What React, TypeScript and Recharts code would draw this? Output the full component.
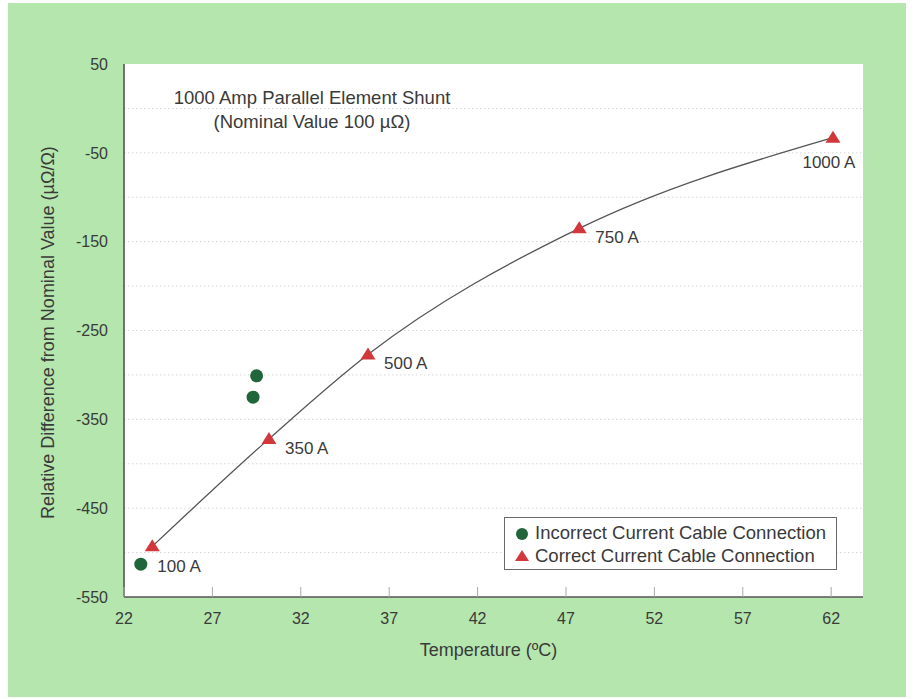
import React from 'react';
import {
  ComposedChart,
  Line,
  Scatter,
  XAxis,
  YAxis,
  ReferenceLine,
  Legend,
  Label,
  LabelList,
} from 'recharts';

// Correct current cable connection (red triangles, fitted curve)
const correctTemp = [23.6, 30.2, 35.8, 47.75, 62.1];
const correctDiff = [-493, -372, -277, -135, -33];
const correctLabels = ['100 A', '350 A', '500 A', '750 A', '1000 A'];

// Incorrect current cable connection (green circles)
const incorrectTemp = [22.95, 29.5, 29.3];
const incorrectDiff = [-513, -301, -325];

const xTicks = [22, 27, 32, 37, 42, 47, 52, 57, 62];
const yTicks = [50, -50, -150, -250, -350, -450, -550];
const gridValues = [0, -50, -100, -150, -200, -250, -300, -350, -400, -450, -500];

const titleLine1 = '1000 Amp Parallel Element Shunt';
const titleLine2 = '(Nominal Value 100 \u00b5\u03a9)';
const xLabel = 'Temperature (\u00baC)';
const yLabel = 'Relative Difference from Nominal Value (\u00b5\u03a9/\u03a9)';
const seriesNames = ['Incorrect Current Cable Connection', 'Correct Current Cable Connection'];

const correctData = correctTemp.map((x, i) => ({ x, y: correctDiff[i], label: correctLabels[i] }));
const incorrectData = incorrectTemp.map((x, i) => ({ x, y: incorrectDiff[i] }));

const FONT = '"Liberation Sans", Arial, Helvetica, sans-serif';
const TEXT = '#3a3a3a';
const RED = '#d2383b';
const GREEN = '#21663a';
const BG = '#b4e6ae';

const Triangle = (props: any) => {
  const { cx, cy, index } = props;
  if (cx == null || cy == null) return <g key={`t-${index}`} />;
  return (
    <path
      key={`t-${index}`}
      d={`M${cx},${cy - 7} L${cx + 7.5},${cy + 5} L${cx - 7.5},${cy + 5} Z`}
      fill={RED}
    />
  );
};

const Circle = (props: any) => {
  const { cx, cy } = props;
  return <circle cx={cx} cy={cy} r={6.5} fill={GREEN} />;
};

const XTick = (props: any) => {
  const { x, y, payload } = props;
  return (
    <g>
      <line x1={x} y1={y} x2={x} y2={y - 10} stroke="#aaa" strokeWidth={1} />
      <text x={x} y={y + 27} textAnchor="middle" fontSize={16} fontFamily={FONT} fill={TEXT}>
        {payload.value}
      </text>
    </g>
  );
};

const PointLabel = (props: any) => {
  const { x, y, value, index } = props;
  const last = index === correctLabels.length - 1;
  const first = index === 0;
  const tx = last ? x - 4 : first ? x + 5 : x + 16;
  const ty = last ? y + 30 : first ? y + 26 : y + 15;
  return (
    <text x={tx} y={ty} textAnchor={last ? 'middle' : 'start'} fontSize={17} fontFamily={FONT} fill={TEXT}>
      {value}
    </text>
  );
};

const PlotBackground = (p: any) => {
  const vb = p.viewBox || {};
  return (
    <g>
      <rect x={vb.x} y={vb.y} width={vb.width} height={533} fill="#fff" />
      <text x={vb.x + 188} y={vb.y + 40} textAnchor="middle" fontSize={18.5} fontFamily={FONT} fill={TEXT}>
        {titleLine1}
      </text>
      <text x={vb.x + 188} y={vb.y + 64} textAnchor="middle" fontSize={18.5} fontFamily={FONT} fill={TEXT}>
        {titleLine2}
      </text>
    </g>
  );
};

const LegendBox = () => (
  <div
    style={{
      boxSizing: 'border-box',
      width: 333,
      height: 53,
      border: '1.5px solid #6a6a6a',
      background: '#fff',
      fontFamily: FONT,
      fontSize: 18.5,
      color: TEXT,
      position: 'relative',
    }}
  >
    <svg width={20} height={50} style={{ position: 'absolute', left: 7, top: 0 }}>
      <circle cx={10} cy={16} r={6} fill={GREEN} />
      <path d="M10,32 L17,43 L3,43 Z" fill={RED} />
    </svg>
    <div style={{ position: 'absolute', left: 30, top: 3, lineHeight: '23px', whiteSpace: 'nowrap' }}>
      {seriesNames[0]}
    </div>
    <div style={{ position: 'absolute', left: 30, top: 26, lineHeight: '23px', whiteSpace: 'nowrap' }}>
      {seriesNames[1]}
    </div>
  </div>
);

export default function App() {
  return (
    <div
      style={{
        position: 'absolute',
        left: 8,
        top: 3,
        width: 898,
        height: 694,
        background: BG,
      }}
    >
      <ComposedChart
        width={898}
        height={694}
        margin={{ top: 61, right: 43, left: 56, bottom: 60 }}
        style={{ fontFamily: FONT }}
      >
        <XAxis
          xAxisId={0}
          type="number"
          dataKey="x"
          domain={[22, 63.8]}
          ticks={xTicks}
          allowDataOverflow
          height={40}
          tickSize={0}
          tickMargin={0}
          tickLine={false}
          axisLine={{ stroke: '#555', strokeWidth: 1.6 }}
          tick={<XTick />}
        >
          <Label
            content={(p: any) => {
              const vb = p.viewBox || {};
              return (
                <text
                  x={vb.x + vb.width / 2 - 5}
                  y={vb.y + 59}
                  textAnchor="middle"
                  fontSize={18}
                  fontFamily={FONT}
                  fill={TEXT}
                >
                  {xLabel}
                </text>
              );
            }}
          />
        </XAxis>
        <XAxis
          xAxisId="top"
          orientation="top"
          type="number"
          domain={[22, 63.8]}
          height={0}
          tick={false}
          tickLine={false}
          axisLine={{ stroke: '#555', strokeWidth: 1.6 }}
        />
        <YAxis
          yAxisId={0}
          type="number"
          domain={[-550, 50]}
          ticks={yTicks}
          allowDataOverflow
          width={60}
          tickSize={0}
          tickMargin={16}
          tickLine={false}
          axisLine={{ stroke: '#555', strokeWidth: 1.6 }}
          tick={{ fontSize: 16, fill: TEXT, fontFamily: FONT }}
        >
          <Label
            content={(p: any) => {
              const vb = p.viewBox || {};
              const cx = vb.x - 16;
              const cy = vb.y + vb.height / 2 + 2;
              return (
                <text
                  x={cx}
                  y={cy}
                  transform={`rotate(-90 ${cx} ${cy})`}
                  textAnchor="middle"
                  dominantBaseline="central"
                  fontSize={18}
                  fontFamily={FONT}
                  fill={TEXT}
                >
                  {yLabel}
                </text>
              );
            }}
          />
        </YAxis>
        <YAxis
          yAxisId="right"
          orientation="right"
          type="number"
          domain={[-550, 50]}
          width={0}
          tick={false}
          tickLine={false}
          axisLine={{ stroke: '#555', strokeWidth: 1.6 }}
        />
        <ReferenceLine y={50} stroke="none" label={PlotBackground} />
        {gridValues.map((v) => (
          <ReferenceLine key={v} y={v} stroke="#d6d6d6" strokeWidth={1} strokeDasharray="1.5 2.5" />
        ))}
        <Line
          data={correctData}
          dataKey="y"
          type="monotoneX"
          stroke="#555"
          strokeWidth={1.3}
          dot={Triangle}
          activeDot={false}
          isAnimationActive={false}
          name={seriesNames[1]}
        >
          <LabelList dataKey="label" content={PointLabel} />
        </Line>
        <Scatter
          data={incorrectData}
          dataKey="y"
          shape={Circle}
          isAnimationActive={false}
          name={seriesNames[0]}
        />
        <Legend
          layout="vertical"
          align="center"
          verticalAlign="middle"
          wrapperStyle={{ left: 496, top: 514, width: 333, height: 53 }}
          content={() => <LegendBox />}
        />
      </ComposedChart>
    </div>
  );
}
